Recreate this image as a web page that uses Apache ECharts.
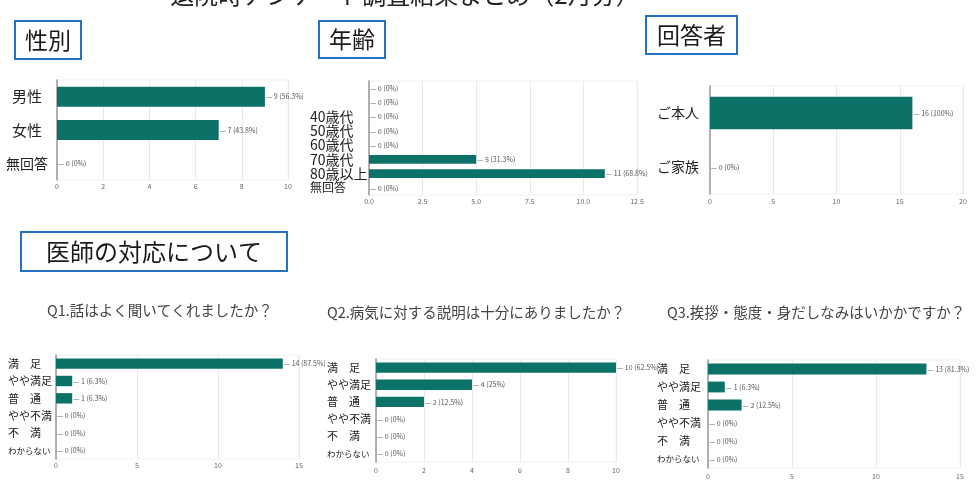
<!DOCTYPE html>
<html><head><meta charset="utf-8">
<script src="https://cdn.jsdelivr.net/npm/echarts@6/dist/echarts.min.js"></script>
<style>html,body{margin:0;padding:0;background:#fff}#c{width:980px;height:500px}</style>
</head><body><div id="c"></div>
<script>
const genderCats = ['男性', '女性', '無回答'];
const genderVals = [9, 7, 0];
const ageCats = ['', ' ', '40歳代', '50歳代', '60歳代', '70歳代', '80歳以上', '無回答'];
const ageVals = [0, 0, 0, 0, 0, 5, 11, 0];
const respCats = ['ご本人', 'ご家族'];
const respVals = [16, 0];
const satCats = ['満　足', 'やや満足', '普　通', 'やや不満', '不　満', 'わからない'];
const q1Vals = [14, 1, 1, 0, 0, 0];
const q2Vals = [10, 4, 2, 0, 0, 0];
const q3Vals = [13, 1, 2, 0, 0, 0];
const genderAxis = { max: 10, interval: 2 };
const ageAxis = { max: 12.5, interval: 2.5 };
const respAxis = { max: 20, interval: 5 };
const q1Axis = { max: 15, interval: 5 };
const q2Axis = { max: 10, interval: 2 };
const q3Axis = { max: 15, interval: 5 };
const mainTitle = '退院時アンケート調査結果まとめ（2月分）';
const q1Title = 'Q1.話はよく聞いてくれましたか？';
const q2Title = 'Q2.病気に対する説明は十分にありましたか？';
const q3Title = 'Q3.挨拶・態度・身だしなみはいかかですか？';

const FONT = '"Noto Sans CJK JP", "Noto Sans", sans-serif';
const TEAL = '#0c7166';
const BLUE = '#2271c2';

const grids = [
  { left: 57, width: 231, top: 80, height: 100 },
  { left: 369, width: 268, top: 81, height: 114 },
  { left: 710, width: 253, top: 86, height: 108 },
  { left: 56, width: 243, top: 355, height: 104 },
  { left: 376, width: 240, top: 359, height: 103 },
  { left: 708, width: 252, top: 360, height: 108 }
].map(g => Object.assign({
  show: true, borderColor: '#f0f0f0', borderWidth: 1, backgroundColor: 'transparent',
  containLabel: false, outerBoundsMode: 'none'
}, g));

const axes = [genderAxis, ageAxis, respAxis, q1Axis, q2Axis, q3Axis];
const tickMargins = [3, 3, 4, 3, 5, 5];
const xAxes = axes.map((a, i) => ({
  type: 'value', gridIndex: i, min: 0, max: a.max, interval: a.interval,
  axisLine: { show: false }, axisTick: { show: false },
  splitLine: { lineStyle: { color: '#e9e9e9', width: 1 } },
  axisLabel: {
    fontSize: 7, color: '#666', margin: tickMargins[i], fontFamily: FONT,
    formatter: i === 1 ? (v => v.toFixed(1)) : (v => String(v))
  }
}));

function catData(cats, size, sizes, align) {
  return cats.map((c, i) => ({
    value: c,
    textStyle: { fontSize: (sizes && sizes[i]) || size, align: align, color: '#222', fontFamily: FONT }
  }));
}
const catSets = [
  { cats: catData(genderCats, 15, [15, 15, 14], 'center'), size: 15, margin: 30, align: 'center' },
  { cats: catData(ageCats, 14, [0, 0, 0, 0, 0, 0, 0, 12], 'left'), size: 14, margin: 59, align: 'left' },
  { cats: catData(respCats, 14, null, 'right'), size: 14, margin: 11, align: 'right' },
  { cats: catData(satCats, 11, [0, 0, 0, 0, 0, 8.5], 'left'), size: 11, margin: 48, align: 'left' },
  { cats: catData(satCats, 11, [0, 0, 0, 0, 0, 8.5], 'left'), size: 11, margin: 49, align: 'left' },
  { cats: catData(satCats, 11, [0, 0, 0, 0, 0, 8.5], 'left'), size: 11, margin: 51, align: 'left' }
];
const yAxes = catSets.map((s, i) => ({
  type: 'category', gridIndex: i, inverse: true, data: s.cats,
  axisLine: { show: true, lineStyle: { color: '#9a9a9a', width: 1.5 } },
  axisTick: { show: false }, splitLine: { show: false },
  axisLabel: { fontSize: s.size, color: '#222', margin: s.margin, align: s.align, fontFamily: FONT, interval: 0 }
}));

const valSets = [genderVals, ageVals, respVals, q1Vals, q2Vals, q3Vals];
const series = valSets.map((vals, i) => {
  const total = vals.reduce((a, b) => a + b, 0);
  return {
    type: 'bar', xAxisIndex: i, yAxisIndex: i, data: vals,
    barCategoryGap: '40%',
    itemStyle: { color: TEAL },
    label: {
      show: true, position: 'right', distance: 1, fontSize: 7, color: '#555', fontFamily: FONT,
      formatter: p => {
        const pct = Math.round(p.value / total * 1000) / 10;
        return '— ' + p.value + ' (' + pct + '%)';
      }
    },
    silent: true, animation: false
  };
});

function boxTitle(x, y, w, h, text, size) {
  return {
    type: 'group', children: [
      { type: 'rect', shape: { x: x, y: y, width: w, height: h }, style: { fill: '#fff', stroke: BLUE, lineWidth: 2 } },
      { type: 'text', x: x + w / 2, y: y + h / 2, style: { text: text, fontSize: size, fontFamily: FONT, fill: '#1a1a1a', textAlign: 'center', textVerticalAlign: 'middle' } }
    ]
  };
}
function qTitle(x, y, text) {
  return { type: 'text', x: x, y: y, style: { text: text, fontSize: 14.5, fontFamily: FONT, fill: '#444', textAlign: 'left', textVerticalAlign: 'middle' } };
}

const chart = echarts.init(document.getElementById('c'), null, { renderer: 'canvas' });
chart.setOption({
  backgroundColor: '#fff',
  animation: false,
  grid: grids,
  xAxis: xAxes,
  yAxis: yAxes,
  series: series,
  graphic: [
    { type: 'text', x: 405, y: 7, style: { text: mainTitle, fontSize: 24, fontFamily: FONT, fill: '#222', textAlign: 'center', textVerticalAlign: 'bottom' } },
    boxTitle(15, 21, 66, 38, '性別', 23),
    boxTitle(319, 21, 66, 37, '年齢', 23),
    boxTitle(646, 16, 91, 38, '回答者', 23),
    boxTitle(21, 232, 266, 39, '医師の対応について', 24),
    qTitle(47, 310, q1Title),
    qTitle(327, 312, q2Title),
    qTitle(667, 312, q3Title)
  ]
});
</script></body></html>
